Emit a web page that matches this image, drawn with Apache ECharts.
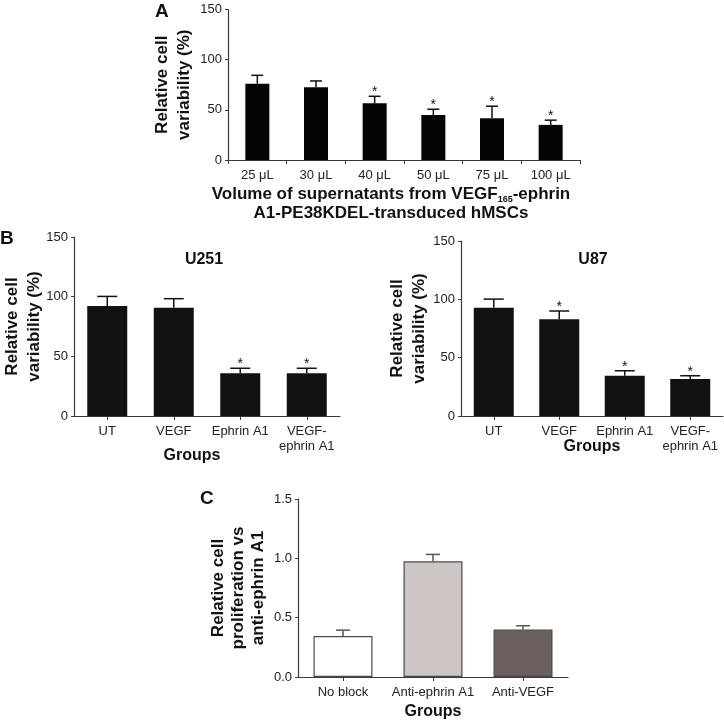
<!DOCTYPE html>
<html><head><meta charset="utf-8">
<script src="https://cdn.jsdelivr.net/npm/echarts@6/dist/echarts.min.js"></script>
<style>html,body{margin:0;padding:0;background:#fff}#c{width:724px;height:722px}</style>
</head><body><div id="c"></div>
<script>
// Panel A
const catsA = ['25 μL', '30 μL', '40 μL', '50 μL', '75 μL', '100 μL'];
const valsA = [76, 72.5, 56.5, 44.8, 41.6, 35];
const errA = [8.4, 6.3, 7, 5.8, 12, 4.7];
const sigA = [0, 0, 1, 1, 1, 1];
// Panel B
const catsB = ['UT', 'VEGF', 'Ephrin A1', 'VEGF-\nephrin A1'];
const valsU251 = [92.2, 90.8, 35.8, 35.8];
const errU251 = [8, 7.5, 4.2, 4.2];
const sigU251 = [0, 0, 1, 1];
const valsU87 = [92.8, 83, 34.6, 31.7];
const errU87 = [7.4, 7, 4.2, 2.8];
const sigU87 = [0, 1, 1, 1];
// Panel C
const catsC = ['No block', 'Anti-ephrin A1', 'Anti-VEGF'];
const valsC = [0.345, 0.975, 0.40];
const errC = [0.05, 0.058, 0.032];
const colorsC = ['#ffffff', '#cdc6c5', '#6a5f5c'];

const FONT = 'Liberation Sans, Arial, Helvetica, sans-serif';
const AX = '#3a3a3a';

const chart = echarts.init(document.getElementById('c'), null, {renderer: 'canvas'});

function xAx(gi, cats, align, nameTxt, nameGap, nameStyle) {
  return {
    type: 'category', gridIndex: gi, data: cats,
    axisLine: {lineStyle: {color: AX, width: 1.2}},
    axisTick: {show: true, alignWithLabel: align, length: 4, lineStyle: {color: AX}},
    axisLabel: {color: '#222', fontSize: 13, fontFamily: FONT, margin: 8, interval: 0, lineHeight: 15},
    name: nameTxt, nameLocation: 'middle', nameGap: nameGap, nameMoveOverlap: false,
    nameTextStyle: Object.assign({color: '#111', fontSize: 16, fontWeight: 'bold', fontFamily: FONT}, nameStyle || {})
  };
}
function yAx(gi, max, interval, nameTxt, nameGap, fmt, lh) {
  return {
    type: 'value', gridIndex: gi, min: 0, max: max, interval: interval,
    axisLine: {show: true, lineStyle: {color: AX, width: 1.2}},
    axisTick: {show: true, length: 3, lineStyle: {color: AX}},
    splitLine: {show: false},
    axisLabel: {color: '#222', fontSize: 13, fontFamily: FONT, margin: 6, formatter: fmt},
    name: nameTxt, nameLocation: 'middle', nameGap: nameGap, nameMoveOverlap: false,
    nameTextStyle: {color: '#111', fontSize: 17, fontWeight: 'bold', fontFamily: FONT, lineHeight: lh || 22}
  };
}
function errSeries(gi, vals, errs, sigs, color, capW, lw) {
  return {
    type: 'custom', xAxisIndex: gi, yAxisIndex: gi, z: 1,
    data: vals.map((v, i) => [i, v, v + errs[i], sigs ? sigs[i] : 0]),
    encode: {x: 0, y: [1, 2]},
    renderItem: function (params, api) {
      const b = api.coord([api.value(0), api.value(1)]);
      const t = api.coord([api.value(0), api.value(2)]);
      const ch = [
        {type: 'line', shape: {x1: b[0], y1: b[1], x2: t[0], y2: t[1]}, style: {stroke: color, lineWidth: lw}},
        {type: 'line', shape: {x1: t[0] - capW / 2, y1: t[1], x2: t[0] + capW / 2, y2: t[1]}, style: {stroke: color, lineWidth: lw}}
      ];
      if (api.value(3)) {
        ch.push({type: 'text', x: t[0], y: t[1] + 3, style: {text: '*', fill: '#111', font: '14px ' + FONT, align: 'center', verticalAlign: 'bottom'}});
      }
      return {type: 'group', children: ch};
    }
  };
}
const LBL = {fontSize: 19, fontWeight: 'bold', color: '#111', fontFamily: FONT};

const option = {
  animation: false,
  backgroundColor: '#fff',
  title: [
    {text: 'A', left: 150, top: -3, textStyle: LBL},
    {text: 'B', left: -5, top: 224, textStyle: LBL},
    {text: 'C', left: 195, top: 484, textStyle: LBL}
  ],
  graphic: [
    {type: 'text', x: 204, y: 260, style: {text: 'U251', font: 'bold 16px ' + FONT, fill: '#111', align: 'center', verticalAlign: 'middle'}},
    {type: 'text', x: 593, y: 260, style: {text: 'U87', font: 'bold 16px ' + FONT, fill: '#111', align: 'center', verticalAlign: 'middle'}}
  ],
  grid: [
    {left: 228, width: 352, top: 9.5, height: 150.5},
    {left: 72, width: 268, top: 237, height: 179},
    {left: 461, width: 262, top: 241, height: 175},
    {left: 298, width: 270, top: 499, height: 178}
  ],
  xAxis: [
    xAx(0, catsA, false, 'Volume of supernatants from VEGF{sub|165}-ephrin\nA1-PE38KDEL-transduced hMSCs', 25, {
      fontSize: 17, lineHeight: 19, padding: [0, 26, 0, 0],
      rich: {sub: {fontSize: 9, fontWeight: 'bold', fontFamily: FONT, color: '#111', verticalAlign: 'bottom', lineHeight: 12}}
    }),
    xAx(1, catsB, true, 'Groups', 32, {padding: [0, 30, 0, 0]}),
    xAx(2, catsB, true, 'Groups', 23),
    xAx(3, catsC, true, 'Groups', 27)
  ],
  yAxis: [
    yAx(0, 150, 50, 'Relative cell\nvariability (%)', 33),
    yAx(1, 150, 50, 'Relative cell\nvariability (%)', 29),
    yAx(2, 150, 50, 'Relative cell\nvariability (%)', 31),
    yAx(3, 1.5, 0.5, 'Relative cell\nproliferation vs\nanti-ephrin A1', 30, v => v.toFixed(1), 20)
  ],
  series: [
    {type: 'bar', xAxisIndex: 0, yAxisIndex: 0, data: valsA, barWidth: 24, itemStyle: {color: '#050505'}, z: 2},
    errSeries(0, valsA, errA, sigA, '#111', 12, 1.5),
    {type: 'bar', xAxisIndex: 1, yAxisIndex: 1, data: valsU251, barWidth: 40, itemStyle: {color: '#111'}, z: 2},
    errSeries(1, valsU251, errU251, sigU251, '#111', 20, 1.5),
    {type: 'bar', xAxisIndex: 2, yAxisIndex: 2, data: valsU87, barWidth: 40, itemStyle: {color: '#111'}, z: 2},
    errSeries(2, valsU87, errU87, sigU87, '#111', 20, 1.5),
    {type: 'bar', xAxisIndex: 3, yAxisIndex: 3, barWidth: 59, z: 2,
      data: valsC.map((v, i) => ({value: v, itemStyle: {color: colorsC[i], borderColor: '#4a4a4a', borderWidth: 1.2}}))},
    errSeries(3, valsC, errC, null, '#555', 14, 1.5)
  ]
};
chart.setOption(option);
</script></body></html>
